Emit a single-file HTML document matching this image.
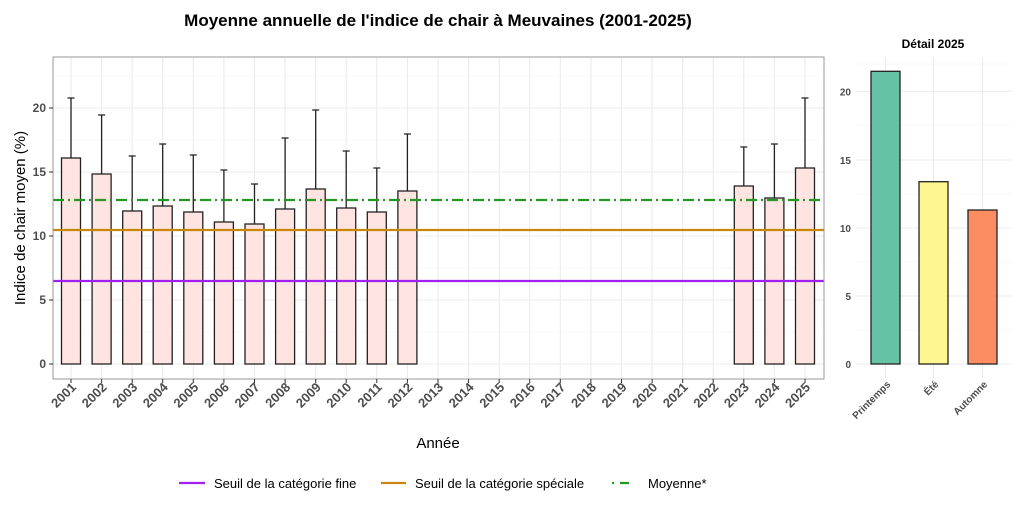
<!DOCTYPE html>
<html><head><meta charset="utf-8"><style>body{margin:0;background:#fff}svg{display:block;font-family:"Liberation Sans",Arial,sans-serif}</style></head><body>
<svg width="1024" height="512" viewBox="0 0 1024 512" xmlns="http://www.w3.org/2000/svg">
<rect width="1024" height="512" fill="#fff"/>
<text x="438" y="26" font-size="17" font-weight="bold" text-anchor="middle" fill="#000">Moyenne annuelle de l'indice de chair à Meuvaines (2001-2025)</text>
<g stroke="#f2f2f2" stroke-width="0.6">
<line x1="53" x2="824" y1="332" y2="332"/><line x1="53" x2="824" y1="268" y2="268"/><line x1="53" x2="824" y1="204" y2="204"/><line x1="53" x2="824" y1="140" y2="140"/><line x1="53" x2="824" y1="76" y2="76"/>
</g>
<g stroke="#ebebeb" stroke-width="1.1">
<line x1="53" x2="824" y1="364" y2="364"/><line x1="53" x2="824" y1="300" y2="300"/><line x1="53" x2="824" y1="236" y2="236"/><line x1="53" x2="824" y1="172" y2="172"/><line x1="53" x2="824" y1="108" y2="108"/>
<line x1="71" x2="71" y1="57" y2="379"/><line x1="101.6" x2="101.6" y1="57" y2="379"/><line x1="132.2" x2="132.2" y1="57" y2="379"/><line x1="162.7" x2="162.7" y1="57" y2="379"/><line x1="193.3" x2="193.3" y1="57" y2="379"/><line x1="223.9" x2="223.9" y1="57" y2="379"/><line x1="254.5" x2="254.5" y1="57" y2="379"/><line x1="285.1" x2="285.1" y1="57" y2="379"/><line x1="315.7" x2="315.7" y1="57" y2="379"/><line x1="346.2" x2="346.2" y1="57" y2="379"/><line x1="376.8" x2="376.8" y1="57" y2="379"/><line x1="407.4" x2="407.4" y1="57" y2="379"/><line x1="438" x2="438" y1="57" y2="379"/><line x1="468.6" x2="468.6" y1="57" y2="379"/><line x1="499.2" x2="499.2" y1="57" y2="379"/><line x1="529.7" x2="529.7" y1="57" y2="379"/><line x1="560.3" x2="560.3" y1="57" y2="379"/><line x1="590.9" x2="590.9" y1="57" y2="379"/><line x1="621.5" x2="621.5" y1="57" y2="379"/><line x1="652.1" x2="652.1" y1="57" y2="379"/><line x1="682.7" x2="682.7" y1="57" y2="379"/><line x1="713.2" x2="713.2" y1="57" y2="379"/><line x1="743.8" x2="743.8" y1="57" y2="379"/><line x1="774.4" x2="774.4" y1="57" y2="379"/><line x1="805" x2="805" y1="57" y2="379"/>
</g>
<g fill="#ffe4e1" stroke="#222" stroke-width="1.3">
<rect x="61.5" y="158" width="19" height="206"/><rect x="92.1" y="174" width="19" height="190"/><rect x="122.7" y="211" width="19" height="153"/><rect x="153.2" y="206" width="19" height="158"/><rect x="183.8" y="212" width="19" height="152"/><rect x="214.4" y="222" width="19" height="142"/><rect x="245" y="224" width="19" height="140"/><rect x="275.6" y="209" width="19" height="155"/><rect x="306.2" y="189" width="19" height="175"/><rect x="336.7" y="208" width="19" height="156"/><rect x="367.3" y="212" width="19" height="152"/><rect x="397.9" y="191" width="19" height="173"/><rect x="734.3" y="186" width="19" height="178"/><rect x="764.9" y="198" width="19" height="166"/><rect x="795.5" y="168" width="19" height="196"/>
</g>
<g stroke="#222" stroke-width="1.3">
<path d="M71 158V98M67.5 98H74.5M101.6 174V115M98.1 115H105.1M132.2 211V156M128.7 156H135.7M162.7 206V144M159.2 144H166.2M193.3 212V155M189.8 155H196.8M223.9 222V170M220.4 170H227.4M254.5 224V184M251 184H258M285.1 209V138M281.6 138H288.6M315.7 189V110M312.2 110H319.2M346.2 208V151M342.7 151H349.7M376.8 212V168M373.3 168H380.3M407.4 191V134M403.9 134H410.9M743.8 186V147M740.3 147H747.3M774.4 198V144M770.9 144H777.9M805 168V98M801.5 98H808.5"/>
</g>
<line x1="53" x2="824" y1="281" y2="281" stroke="#a020f0" stroke-width="2.3"/>
<line x1="53" x2="824" y1="230" y2="230" stroke="#c8860b" stroke-width="2.3"/>
<line x1="53" x2="824" y1="200" y2="200" stroke="#229922" stroke-width="2.3" stroke-dasharray="11 4 2 4"/>
<rect x="53" y="57" width="771" height="322" fill="none" stroke="#999" stroke-width="1"/>
<g font-size="12" font-weight="bold" fill="#4d4d4d" text-anchor="end">
<text x="46" y="368">0</text><text x="46" y="304">5</text><text x="46" y="240">10</text><text x="46" y="176">15</text><text x="46" y="112">20</text>
</g>
<g stroke="#333" stroke-width="1"><path d="M49 364H53M49 300H53M49 236H53M49 172H53M49 108H53"/></g>
<text transform="translate(25,218) rotate(-90)" font-size="15" text-anchor="middle" fill="#000">Indice de chair moyen (%)</text>
<g stroke="#333" stroke-width="1"><path d="M71 379V383M101.6 379V383M132.2 379V383M162.7 379V383M193.3 379V383M223.9 379V383M254.5 379V383M285.1 379V383M315.7 379V383M346.2 379V383M376.8 379V383M407.4 379V383M438 379V383M468.6 379V383M499.2 379V383M529.7 379V383M560.3 379V383M590.9 379V383M621.5 379V383M652.1 379V383M682.7 379V383M713.2 379V383M743.8 379V383M774.4 379V383M805 379V383"/></g>
<g font-size="13" font-weight="bold" fill="#4d4d4d" text-anchor="end">
<text transform="translate(77,388) rotate(-45)">2001</text><text transform="translate(107.6,388) rotate(-45)">2002</text><text transform="translate(138.2,388) rotate(-45)">2003</text><text transform="translate(168.7,388) rotate(-45)">2004</text><text transform="translate(199.3,388) rotate(-45)">2005</text><text transform="translate(229.9,388) rotate(-45)">2006</text><text transform="translate(260.5,388) rotate(-45)">2007</text><text transform="translate(291.1,388) rotate(-45)">2008</text><text transform="translate(321.7,388) rotate(-45)">2009</text><text transform="translate(352.2,388) rotate(-45)">2010</text><text transform="translate(382.8,388) rotate(-45)">2011</text><text transform="translate(413.4,388) rotate(-45)">2012</text><text transform="translate(444,388) rotate(-45)">2013</text><text transform="translate(474.6,388) rotate(-45)">2014</text><text transform="translate(505.2,388) rotate(-45)">2015</text><text transform="translate(535.7,388) rotate(-45)">2016</text><text transform="translate(566.3,388) rotate(-45)">2017</text><text transform="translate(596.9,388) rotate(-45)">2018</text><text transform="translate(627.5,388) rotate(-45)">2019</text><text transform="translate(658.1,388) rotate(-45)">2020</text><text transform="translate(688.7,388) rotate(-45)">2021</text><text transform="translate(719.2,388) rotate(-45)">2022</text><text transform="translate(749.8,388) rotate(-45)">2023</text><text transform="translate(780.4,388) rotate(-45)">2024</text><text transform="translate(811,388) rotate(-45)">2025</text>
</g>
<text x="438" y="448" font-size="15" text-anchor="middle" fill="#000">Année</text>
<line x1="179" x2="205" y1="483" y2="483" stroke="#a020f0" stroke-width="2.3"/>
<text x="214" y="488" font-size="13" fill="#000">Seuil de la catégorie fine</text>
<line x1="381" x2="406" y1="483" y2="483" stroke="#c8860b" stroke-width="2.3"/>
<text x="415" y="488" font-size="13" fill="#000">Seuil de la catégorie spéciale</text>
<line x1="612" x2="635" y1="483" y2="483" stroke="#229922" stroke-width="2.3" stroke-dasharray="2 6 9 20"/>
<text x="648" y="488" font-size="13" fill="#000">Moyenne*</text>
<text x="933" y="48" font-size="12" font-weight="bold" text-anchor="middle" fill="#000">Détail 2025</text>
<g stroke="#f2f2f2" stroke-width="0.6">
<line x1="856" x2="1012" y1="330" y2="330"/><line x1="856" x2="1012" y1="262" y2="262"/><line x1="856" x2="1012" y1="194" y2="194"/><line x1="856" x2="1012" y1="125" y2="125"/><line x1="856" x2="1012" y1="64" y2="64"/>
</g>
<g stroke="#ebebeb" stroke-width="1.1">
<line x1="856" x2="1012" y1="364" y2="364"/><line x1="856" x2="1012" y1="296" y2="296"/><line x1="856" x2="1012" y1="228" y2="228"/><line x1="856" x2="1012" y1="160" y2="160"/><line x1="856" x2="1012" y1="91.5" y2="91.5"/>
<line x1="885.5" x2="885.5" y1="57" y2="378"/><line x1="933.5" x2="933.5" y1="57" y2="378"/><line x1="982.5" x2="982.5" y1="57" y2="378"/>
</g>
<g stroke="#222" stroke-width="1.3">
<rect x="871" y="71.3" width="29" height="292.7" fill="#66c2a5"/>
<rect x="919" y="181.7" width="29" height="182.3" fill="#fff68f"/>
<rect x="968" y="210" width="29" height="154" fill="#fc8d62"/>
</g>
<g font-size="10" font-weight="bold" fill="#4d4d4d" text-anchor="end">
<text x="851" y="368">0</text><text x="851" y="300">5</text><text x="851" y="232">10</text><text x="851" y="164">15</text><text x="851" y="95.5">20</text>
</g>
<g font-size="10" font-weight="bold" fill="#4d4d4d" text-anchor="end">
<text transform="translate(891,385) rotate(-45)">Printemps</text>
<text transform="translate(939,385) rotate(-45)">Été</text>
<text transform="translate(988,385) rotate(-45)">Automne</text>
</g>
</svg>
</body></html>
